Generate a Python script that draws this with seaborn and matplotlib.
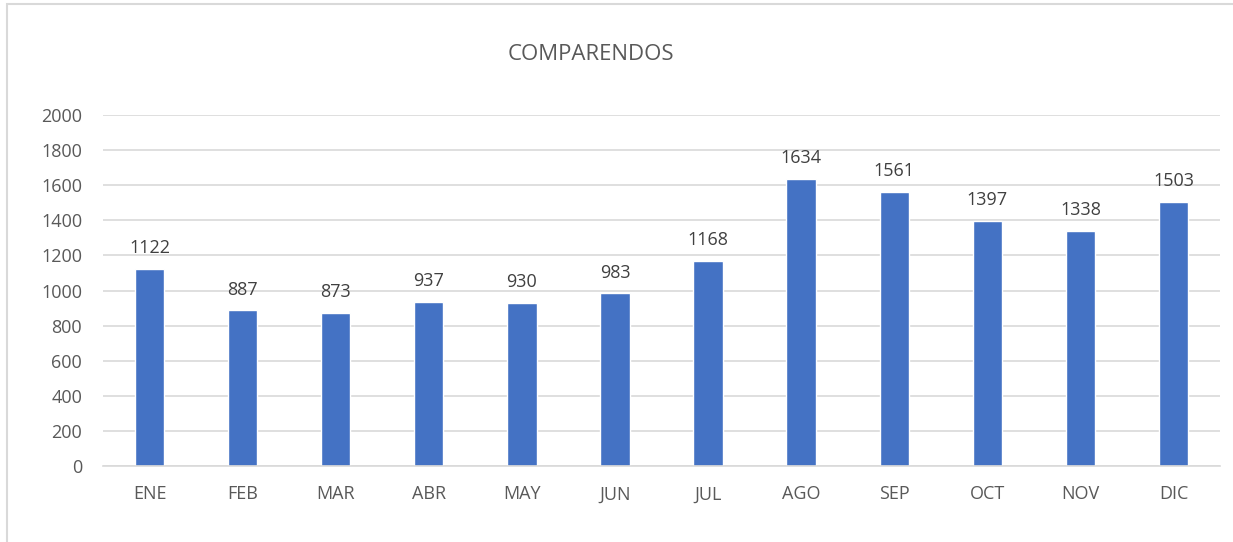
import matplotlib
matplotlib.use("Agg")
import matplotlib.pyplot as plt
import seaborn as sns
import pandas as pd
from matplotlib.patches import Rectangle

months = ["ENE", "FEB", "MAR", "ABR", "MAY", "JUN", "JUL", "AGO", "SEP", "OCT", "NOV", "DIC"]
values = [1122, 887, 873, 937, 930, 983, 1168, 1634, 1561, 1397, 1338, 1503]
title = "COMPARENDOS"
yticks = [0, 200, 400, 600, 800, 1000, 1200, 1400, 1600, 1800, 2000]

sns.set_theme(style="white")
plt.rcParams['font.family'] = ['Open Sans', 'DejaVu Sans']

W, H = 1233, 542
fig = plt.figure(figsize=(W / 100, H / 100), dpi=100)
ax = fig.add_axes([103 / W, 1 - 466 / H, (1220 - 103) / W, (466 - 115) / H])

df = pd.DataFrame({"mes": months, "valor": values})
sns.barplot(data=df, x="mes", y="valor", color="#4472C4", saturation=1, width=0.315, ax=ax)

ax.set_ylim(0, 2000)
ax.set_xlim(-0.5, len(months) - 0.5)
ax.set_yticks(yticks)
ax.set_yticklabels([str(t) for t in yticks])
ax.set_xlabel("")
ax.set_ylabel("")
ax.yaxis.grid(True, color="#D9D9D9", linewidth=1.2)
ax.set_axisbelow(True)
for s in ["top", "right", "left"]:
    ax.spines[s].set_visible(False)
ax.spines["bottom"].set_color("#D9D9D9")
ax.spines["bottom"].set_linewidth(1.2)
ax.tick_params(axis="both", length=0, labelsize=13, colors="#595959")
ax.tick_params(axis="y", pad=15)
ax.tick_params(axis="x", pad=14)

for i, v in enumerate(values):
    ax.annotate(str(v), (i, v), xytext=(0, 8.5), textcoords="offset points",
                ha="center", va="bottom", fontsize=13, color="#404040")

fig.text(591 / W, 1 - 54 / H, title, ha="center", va="center", fontsize=16, color="#595959")

fig.patches.append(Rectangle((7 / W, -0.1), 1.2, 1 - 4 / H + 0.1, transform=fig.transFigure,
                             fill=False, edgecolor="#D9D9D9", linewidth=1.5))

fig.savefig("out.png", dpi=100)
